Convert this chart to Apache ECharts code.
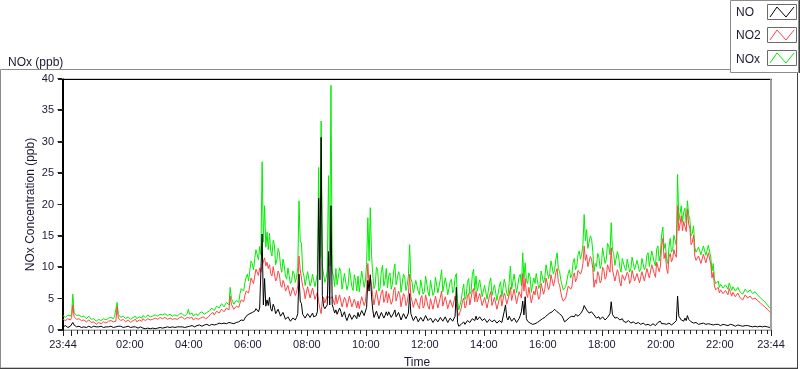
<!DOCTYPE html>
<html>
<head>
<meta charset="utf-8">
<script src="https://cdn.jsdelivr.net/npm/echarts@6/dist/echarts.min.js"></script>
<style>
html,body{margin:0;padding:0;background:#fff;}
#chart{width:800px;height:369px;}
</style>
</head>
<body>
<div id="chart"></div>
<script>
// Samples every 2.5 minutes starting at 23:44 (minute 0) through 23:44 next day (minute 1440)
const sampleStepMinutes = 2.5;

const NOx = [
  2.3,2.5, 2.0,2.2, 2.4,2.1, 2.2,2.6, 5.7,2.8, 2.6,2.3, 2.2,2.4, 2.5,2.1, 2.0,2.2, 2.3,1.8, 1.9,2.2, 2.1,1.7,
  1.5,1.8, 1.7,1.4, 1.4,1.7, 1.8,1.5, 1.5,1.8, 1.9,1.6, 1.6,1.9, 1.8,2.0, 2.0,1.8, 2.2,2.0, 4.4,2.5, 2.3,2.0,
  1.9,2.2, 2.1,1.8, 1.8,2.1, 2.0,1.7, 1.7,2.0, 2.0,2.2, 1.8,2.0, 2.1,1.8, 1.9,2.3, 2.2,2.0, 2.0,2.4, 2.3,2.1,
  2.4,2.2, 2.1,2.4, 2.5,2.2, 2.2,2.5, 2.6,2.4, 2.3,2.6, 2.5,2.3, 2.2,2.5, 2.4,2.2, 2.1,2.4, 2.5,2.2, 2.3,2.6,
  2.3,2.6, 2.5,2.2, 2.2,2.6, 3.3,2.5, 2.4,2.7, 2.2,2.5, 2.6,2.3, 2.3,2.7, 2.5,2.9, 2.8,2.5, 2.4,2.8, 2.7,3.0,
  3.2,3.5, 3.6,3.1, 3.4,3.8, 3.9,3.5, 3.6,4.2, 4.1,3.7, 3.8,4.4, 4.3,4.0, 6.8,5.0, 4.6,4.1, 4.2,4.7, 4.9,4.4,
  5.8,6.6, 6.9,6.2, 7.6,8.4, 8.9,7.8, 9.5,11.0, 10.6,9.6, 11.4,12.8, 12.6,11.2, 13.3,12.0, 26.8,14.0, 19.8,13.2, 15.6,12.8,
  15.4,12.6, 11.8,14.3, 13.6,10.4, 11.2,13.0, 12.4,10.1, 9.2,11.3, 10.3,8.6, 8.1,9.9, 9.6,7.4, 7.8,9.4, 9.0,7.6, 8.4,10.0,
  20.6,14.2, 13.8,9.4, 8.6,7.1, 7.4,9.3, 9.1,7.0, 7.6,8.9, 8.8,6.9, 7.2,9.0, 25.9,11.5, 33.3,10.2, 8.9,7.6, 8.2,9.5,
  24.6,10.2, 39.0,9.4, 8.6,6.9, 9.8,7.2, 7.4,9.9, 9.3,6.5, 6.8,9.0, 8.7,6.4, 7.2,9.8, 9.6,6.9, 6.3,8.8, 7.9,6.2,
  8.6,6.1, 6.4,9.4, 9.2,6.8, 7.8,10.4, 17.9,11.0, 19.5,12.0, 8.9,6.6, 7.2,10.0, 9.6,6.2, 6.8,9.4, 10.3,7.0, 7.9,9.8,
  6.7,8.6, 9.1,6.5, 7.3,9.4, 10.5,7.2, 7.0,9.3, 8.8,6.0, 6.2,8.9, 8.4,6.3, 7.1,8.6, 13.6,8.2, 7.6,5.9, 5.8,7.9,
  7.8,6.2, 5.6,8.0, 8.3,5.7, 6.1,8.6, 8.9,6.0, 5.4,7.9, 7.6,5.5, 6.0,8.4, 8.7,5.9, 5.8,8.1, 9.6,6.1, 6.4,8.3,
  7.2,5.6, 5.3,7.7, 8.1,5.9, 6.4,8.4, 9.0,4.6, 3.2,4.0, 4.8,6.3, 7.3,4.9, 5.4,7.6, 8.2,5.7, 6.1,8.8, 9.7,6.3,
  8.6,6.2, 5.9,8.0, 7.8,5.3, 5.1,7.1, 7.4,4.9, 4.6,7.6, 8.3,5.5, 5.2,7.2, 6.9,4.7, 4.4,7.0, 7.7,5.3, 5.6,8.1,
  7.2,5.8, 5.4,7.6, 10.2,6.5, 6.3,8.9, 8.6,5.9, 5.7,8.4, 8.9,7.0, 12.3,8.2, 10.7,7.9, 7.4,9.1, 8.5,6.0, 6.2,8.3,
  7.4,9.0, 8.8,6.6, 7.1,9.4, 9.2,7.5, 8.4,10.4, 10.1,8.2, 9.0,11.0, 10.7,8.9, 9.6,11.3, 12.3,9.8, 9.3,8.0, 7.1,6.4,
  6.3,6.9, 7.2,9.0, 9.6,8.3, 8.8,10.8, 11.4,9.6, 10.2,12.0, 12.6,11.3, 12.1,13.6, 18.4,14.2, 16.0,13.0, 13.2,15.0, 14.6,12.6,
  9.3,10.6, 10.1,12.2, 11.6,9.8, 10.4,13.1, 12.8,10.6, 11.2,13.8, 13.4,12.0, 17.1,12.7, 12.2,10.3, 10.4,12.5, 11.8,10.0, 9.2,11.4,
  11.4,9.9, 9.5,11.3, 11.0,9.2, 9.8,11.6, 11.5,9.6, 9.4,11.1, 10.9,9.3, 9.7,11.4, 11.2,9.6, 10.0,11.9, 12.3,10.1, 10.4,12.6,
  12.6,10.8, 10.2,12.9, 13.4,11.0, 12.0,15.1, 16.4,13.0, 13.8,11.4, 10.6,13.2, 14.6,12.4, 12.8,15.1, 14.9,13.5, 24.8,17.4, 18.6,19.8,
  17.2,18.8, 19.4,17.0, 20.6,18.4, 17.6,15.0, 15.4,16.6, 13.2,12.4, 12.6,13.2, 13.4,12.0, 11.8,13.4, 13.6,11.9, 12.2,13.5, 13.3,11.6,
  9.4,10.6, 8.1,7.4, 7.2,7.8, 6.8,7.3, 7.4,6.7, 6.6,7.2, 7.0,6.5, 7.5,6.9, 6.3,6.9, 6.7,6.2, 6.1,6.8, 6.5,6.0,
  6.2,5.7, 5.9,6.5, 6.4,6.0, 5.8,6.4, 6.3,5.8, 5.7,6.1, 6.0,5.6, 5.4,5.2, 5.1,4.8, 4.6,4.5, 4.2,4.0, 3.8,3.5,
  3.3
];

const NO2 = [
  1.7,1.9, 1.5,1.6, 1.8,1.5, 1.6,2.0, 4.0,2.1, 1.9,1.7, 1.6,1.8, 1.8,1.5, 1.4,1.6, 1.7,1.3, 1.3,1.6, 1.5,1.2,
  1.0,1.3, 1.2,0.9, 0.9,1.2, 1.3,1.0, 1.0,1.3, 1.3,1.1, 1.1,1.4, 1.2,1.5, 1.4,1.3, 1.6,1.4, 3.7,1.9, 1.7,1.5,
  1.4,1.7, 1.6,1.3, 1.3,1.6, 1.5,1.2, 1.2,1.5, 1.5,1.7, 1.3,1.5, 1.6,1.3, 1.4,1.8, 1.7,1.5, 1.5,1.8, 1.7,1.6,
  1.8,1.7, 1.6,1.9, 1.9,1.7, 1.7,2.0, 2.0,1.8, 1.7,2.0, 1.9,1.7, 1.6,1.9, 1.9,1.7, 1.6,1.8, 1.9,1.7, 1.7,2.0,
  1.8,2.1, 2.0,1.7, 1.7,2.0, 2.2,1.9, 1.8,2.0, 1.6,1.9, 1.9,1.7, 1.7,2.0, 1.9,2.2, 2.1,1.9, 1.8,2.1, 2.0,2.3,
  2.5,2.8, 2.8,2.4, 2.6,3.0, 3.0,2.7, 2.8,3.3, 3.2,2.9, 3.0,3.5, 3.4,3.2, 5.4,4.1, 3.8,3.3, 3.4,3.8, 4.0,3.6,
  4.3,4.8, 4.9,4.5, 5.5,6.2, 6.5,5.9, 7.1,8.3, 8.0,7.4, 8.6,9.7, 9.4,8.7, 9.9,9.2, 10.3,10.0, 11.5,10.2, 10.8,9.8,
  10.4,9.0, 8.6,10.1, 9.8,7.8, 8.3,9.4, 8.9,7.2, 6.8,7.9, 7.4,6.2, 5.9,7.1, 6.9,5.4, 5.6,6.8, 6.5,5.5, 6.0,7.0,
  11.8,9.6, 9.8,6.9, 6.4,5.0, 5.2,6.9, 6.8,5.1, 5.4,6.7, 6.6,4.9, 5.0,6.0, 4.5,3.4, 2.6,4.8, 5.2,4.3, 4.6,5.5,
  5.2,5.0, 4.8,5.3, 5.0,4.0, 5.6,4.2, 4.2,5.6, 5.4,3.7, 3.9,5.2, 4.8,3.6, 3.8,5.4, 5.1,3.7, 3.4,4.9, 4.3,3.5,
  4.6,3.4, 3.6,5.3, 5.1,3.9, 4.5,6.5, 10.6,7.0, 8.4,7.2, 5.4,4.0, 4.3,6.3, 6.2,3.9, 4.1,6.0, 6.4,4.4, 5.0,6.2,
  4.3,5.8, 6.1,4.1, 4.6,6.3, 6.8,4.6, 4.5,6.2, 5.6,3.7, 3.8,5.8, 5.4,3.9, 4.4,5.7, 8.9,5.3, 4.6,3.6, 3.5,5.0,
  4.8,3.8, 3.4,5.1, 5.5,3.5, 3.9,5.6, 5.8,3.7, 3.3,5.0, 4.9,3.3, 3.6,5.4, 5.6,3.5, 3.4,5.2, 6.2,3.8, 4.0,5.3,
  4.4,3.4, 3.2,4.8, 5.0,3.6, 3.9,5.4, 5.2,2.8, 2.3,2.9, 3.5,4.6, 5.1,3.5, 3.9,5.4, 5.8,4.0, 4.3,6.2, 6.6,4.5,
  6.2,4.5, 4.3,5.8, 5.9,3.9, 3.8,5.2, 5.3,3.5, 3.3,5.5, 6.1,3.9, 3.7,5.2, 5.0,3.3, 3.1,5.0, 5.6,3.8, 4.0,5.9,
  5.3,4.1, 3.9,5.6, 6.8,4.7, 4.5,6.5, 6.2,4.2, 4.0,6.1, 6.4,5.1, 9.0,6.2, 8.2,5.8, 5.2,6.8, 6.5,4.3, 4.4,6.2,
  5.6,7.0, 6.9,4.9, 5.3,7.4, 7.2,5.7, 6.5,8.3, 8.1,6.4, 7.0,8.8, 8.6,7.0, 7.8,9.2, 9.8,7.6, 7.2,6.0, 5.1,4.6,
  4.4,5.1, 5.4,7.0, 7.3,6.5, 6.9,8.6, 9.1,7.7, 8.2,9.5, 9.8,8.9, 9.4,10.6, 13.4,11.1, 12.0,10.1, 10.2,11.7, 11.3,9.8,
  6.8,8.0, 7.4,9.3, 8.7,7.5, 7.9,10.0, 9.6,8.1, 8.5,10.4, 10.1,9.2, 13.1,9.6, 9.3,7.8, 7.9,9.6, 9.0,7.6, 7.0,8.8,
  9.0,7.9, 7.6,9.2, 8.8,7.4, 7.9,9.5, 9.3,7.8, 7.5,9.0, 8.9,7.5, 7.8,9.3, 9.2,7.8, 8.1,9.8, 10.1,8.3, 8.6,10.4,
  10.3,9.0, 8.4,10.8, 11.0,9.3, 10.1,13.4, 14.6,11.4, 12.3,9.9, 9.0,11.6, 12.2,10.9, 11.3,12.8, 12.0,11.6, 19.8,15.8, 16.9,18.2,
  15.8,17.3, 17.1,15.7, 19.3,16.9, 16.2,13.6, 14.0,15.1, 11.8,11.1, 11.0,11.8, 11.9,10.6, 10.4,12.1, 12.4,10.7, 10.9,12.3, 12.2,10.5,
  8.3,9.2, 7.0,6.4, 6.4,6.8, 5.9,6.4, 6.5,5.8, 5.7,6.3, 6.1,5.6, 6.6,6.0, 5.4,6.0, 5.8,5.3, 5.2,5.9, 5.6,5.1,
  5.3,4.8, 5.0,5.6, 5.5,5.1, 4.9,5.4, 5.3,4.9, 4.8,5.1, 5.0,4.7, 4.5,4.4, 4.3,4.0, 3.8,3.7, 3.5,3.3, 3.1,2.9,
  2.6
];

const NO = [
  0.5,0.6, 0.7,0.5, 0.4,0.6, 0.6,0.8, 1.2,0.8, 0.7,0.5, 0.5,0.6, 0.6,0.4, 0.4,0.5, 0.6,0.4, 0.5,0.6, 0.5,0.4,
  0.5,0.6, 0.4,0.5, 0.6,0.5, 0.4,0.6, 0.5,0.4, 0.6,0.5, 0.4,0.5, 0.5,0.6, 0.5,0.4, 0.6,0.5, 0.7,0.6, 0.5,0.6,
  0.5,0.4, 0.6,0.5, 0.4,0.6, 0.5,0.4, 0.6,0.5, 0.4,0.5, 0.5,0.3, 0.4,0.5, 0.5,0.3, 0.3,0.2, 0.4,0.3, 0.3,0.2,
  0.2,0.3, 0.3,0.2, 0.2,0.3, 0.3,0.4, 0.4,0.3, 0.3,0.4, 0.4,0.5, 0.5,0.4, 0.4,0.5, 0.5,0.4, 0.4,0.5, 0.4,0.5,
  0.4,0.5, 0.5,0.4, 0.6,0.5, 0.7,0.6, 0.5,0.7, 0.6,0.5, 0.8,0.7, 0.6,0.8, 0.7,0.6, 0.9,0.8, 0.7,0.9, 0.8,0.7,
  0.8,0.9, 0.9,0.8, 1.0,0.9, 0.9,1.1, 1.1,1.0, 1.0,1.1, 1.2,1.0, 1.0,1.2, 1.3,1.1, 1.1,1.0, 1.0,1.2, 1.2,1.3,
  1.4,1.6, 1.7,1.5, 1.9,2.2, 2.4,2.1, 2.6,2.9, 2.8,2.5, 3.0,3.4, 3.3,2.9, 3.5,3.2, 15.3,4.0, 8.2,3.8, 4.8,3.9,
  5.2,3.4, 3.0,4.1, 3.6,2.6, 2.7,3.3, 3.2,2.2, 2.0,2.8, 2.6,1.7, 1.5,2.1, 2.4,1.4, 1.3,1.9, 2.2,1.6, 2.0,2.6,
  8.9,4.6, 4.2,2.5, 2.2,1.9, 2.1,2.6, 2.4,2.0, 2.2,2.7, 2.1,1.9, 2.3,3.0, 21.0,8.0, 30.7,5.5, 3.8,3.4, 3.6,4.0,
  12.5,4.0, 19.8,4.1, 3.4,2.7, 3.2,2.5, 2.8,3.5, 3.0,2.1, 2.3,2.9, 2.0,1.5, 1.6,2.6, 2.5,1.7, 1.4,2.4, 2.2,1.8,
  2.8,2.1, 2.2,3.1, 3.0,2.3, 2.6,3.6, 7.9,6.2, 8.8,5.4, 3.2,2.0, 2.2,3.0, 2.9,1.8, 1.9,2.8, 2.7,1.9, 2.3,2.9,
  2.3,2.9, 2.8,2.0, 2.1,2.7, 3.2,2.1, 2.0,2.8, 2.6,1.6, 1.7,2.6, 2.5,1.8, 2.2,2.7, 5.8,2.6, 2.4,1.5, 1.6,2.2,
  1.8,1.3, 1.4,2.0, 2.2,1.4, 1.6,2.3, 2.4,1.5, 1.3,1.9, 1.9,1.2, 1.2,1.8, 2.1,1.3, 1.4,2.0, 2.3,1.4, 1.5,2.1,
  1.6,1.2, 1.3,1.9, 2.0,1.4, 1.7,2.2, 6.8,1.2, 0.6,0.8, 0.9,1.2, 1.3,0.9, 1.1,1.5, 1.6,1.2, 1.4,1.8, 1.9,1.5,
  2.2,1.6, 1.8,2.1, 2.0,1.5, 1.4,1.8, 1.6,1.2, 1.1,1.7, 1.9,1.3, 1.2,1.6, 1.5,1.1, 1.0,1.5, 1.8,1.2, 1.4,3.0,
  4.0,2.0, 1.6,2.2, 2.1,1.4, 1.3,1.9, 1.9,1.2, 1.2,1.8, 2.3,3.0, 4.6,2.4, 5.3,1.8, 1.4,1.2, 1.1,0.8, 0.9,1.2,
  1.0,1.3, 1.2,1.0, 1.5,1.7, 1.8,1.6, 2.0,2.3, 2.4,2.2, 2.7,3.0, 2.9,2.6, 3.3,3.1, 2.9,3.2, 2.6,2.3, 2.2,1.8,
  1.3,1.5, 1.6,1.9, 2.0,2.3, 2.2,1.9, 2.1,2.5, 2.4,2.2, 2.3,2.6, 2.7,3.2, 3.9,3.6, 3.2,2.9, 2.7,3.0, 2.9,2.6,
  2.4,2.1, 1.9,2.2, 2.1,1.7, 1.8,2.1, 2.0,1.6, 1.7,2.0, 2.3,2.6, 4.5,2.5, 2.2,1.9, 1.8,2.0, 1.9,1.6, 1.5,1.8,
  1.4,1.1, 1.2,1.4, 1.5,1.2, 1.1,1.3, 1.3,1.0, 1.0,1.2, 1.2,0.9, 0.9,1.1, 1.1,0.8, 0.8,1.0, 0.9,0.7, 0.7,0.9,
  1.0,0.8, 0.7,0.9, 1.2,1.4, 1.4,1.0, 0.8,1.0, 1.1,0.9, 0.9,1.1, 1.0,0.8, 0.8,1.1, 1.2,1.5, 5.4,2.2, 1.9,1.6,
  1.6,1.4, 1.9,1.5, 2.3,1.7, 1.6,1.3, 1.3,1.1, 1.1,1.2, 1.0,0.9, 1.2,1.0, 0.9,1.1, 1.1,0.9, 0.8,1.0, 1.0,0.9,
  0.9,0.8, 1.0,0.9, 0.8,0.9, 0.9,0.7, 0.8,0.9, 1.0,0.8, 0.9,0.7, 0.8,0.9, 0.7,0.8, 0.8,0.6, 0.7,0.8, 0.8,0.7,
  0.7,0.6, 0.8,0.7, 0.6,0.7, 0.7,0.6, 0.6,0.5, 0.7,0.6, 0.6,0.5, 0.5,0.6, 0.6,0.5, 0.5,0.6, 0.6,0.5, 0.5,0.4,
  0.5
];

// Labelled x ticks (minutes after 23:44) and their texts
const xLabelMinutes = [0, 136, 256, 376, 496, 616, 736, 856, 976, 1096, 1216, 1336, 1440];
const xLabelTexts = ['23:44', '02:00', '04:00', '06:00', '08:00', '10:00', '12:00', '14:00', '16:00', '18:00', '20:00', '22:00', '23:44'];
// Major ticks include the unlabelled midnight tick
const xMajorTickMinutes = [0, 16, 136, 256, 376, 496, 616, 736, 856, 976, 1096, 1216, 1336, 1440];
const minorStep = 12;
const yTickValues = [0, 5, 10, 15, 20, 25, 30, 35, 40];

function toPairs(arr) {
  return arr.map((v, i) => [i * sampleStepMinutes, v]);
}
const minorTicks = [];
for (let t = 16 + minorStep; t < 1440; t += minorStep) {
  if ((t - 16) % 120 !== 0) minorTicks.push(t);
}

const txt = '#1a1a33';
const font = "'Liberation Sans', Arial, sans-serif";

const chart = echarts.init(document.getElementById('chart'), null, { renderer: 'canvas' });

function swatch(y, color) {
  return [
    { type: 'rect', shape: { x: 767.5, y: y + 0.5, width: 29, height: 15 }, style: { fill: '#fff', stroke: '#6a6a6a', lineWidth: 1 }, z: 102 },
    { type: 'polyline', shape: { points: [[770, y + 13], [777, y + 3], [786, y + 13], [794, y + 3]] }, style: { stroke: color, lineWidth: 1, fill: null }, z: 103 }
  ];
}

const decorations = [
  { type: 'rect', shape: { x: 0.5, y: 69.5, width: 797, height: 298.5 }, style: { fill: null, stroke: '#8c8c8c', lineWidth: 1 }, z: 100, silent: true },
  { type: 'line', shape: { x1: 0, y1: 368.5, x2: 798, y2: 368.5 }, style: { stroke: '#404040', lineWidth: 1 }, z: 100 },
  { type: 'line', shape: { x1: 797.5, y1: 69, x2: 797.5, y2: 369 }, style: { stroke: '#404040', lineWidth: 1 }, z: 100 },
  { type: 'rect', shape: { x: 730.5, y: 0.5, width: 68, height: 72 }, style: { fill: '#fff', stroke: '#8c8c8c', lineWidth: 1 }, z: 101 },
  { type: 'line', shape: { x1: 799.5, y1: 0, x2: 799.5, y2: 73 }, style: { stroke: '#404040', lineWidth: 1 }, z: 101 },
  { type: 'text', x: 736, y: 13, style: { text: 'NO', font: '12px ' + font, fill: txt, verticalAlign: 'middle' }, z: 102 },
  { type: 'text', x: 736, y: 36, style: { text: 'NO2', font: '12px ' + font, fill: txt, verticalAlign: 'middle' }, z: 102 },
  { type: 'text', x: 736, y: 60, style: { text: 'NOx', font: '12px ' + font, fill: txt, verticalAlign: 'middle' }, z: 102 },
  ...swatch(4, '#000000'),
  ...swatch(27, '#ff4444'),
  ...swatch(50, '#00ee00')
];

chart.setOption({
  animation: false,
  backgroundColor: '#fff',
  textStyle: { fontFamily: font },
  title: {
    text: 'NOx (ppb)', left: 3, top: 52,
    textStyle: { fontSize: 12, fontWeight: 'normal', color: txt, fontFamily: font }
  },
  grid: { left: 63, right: 29, top: 79, bottom: 39, containLabel: false, outerBoundsMode: 'none',
          show: true, borderColor: '#a0a0a0', borderWidth: 1 },
  xAxis: [
    {
      type: 'value', min: 0, max: 1440, position: 'bottom',
      name: 'Time', nameLocation: 'middle', nameGap: 27, nameMoveOverlap: false,
      nameTextStyle: { fontSize: 12, color: txt, fontFamily: font },
      axisLine: { show: true, onZero: false, lineStyle: { color: '#a0a0a0', width: 1 } },
      axisTick: { show: true, length: 6, customValues: xMajorTickMinutes, lineStyle: { color: '#222' } },
      axisLabel: {
        show: true, customValues: xLabelMinutes, margin: 9, fontSize: 11, color: txt, fontFamily: font,
        formatter: v => { const i = xLabelMinutes.indexOf(v); return i >= 0 ? xLabelTexts[i] : ''; }
      },
      splitLine: { show: false }
    },
    {
      type: 'value', min: 0, max: 1440, position: 'bottom',
      axisLine: { show: false, onZero: false },
      axisTick: { show: true, length: 4, customValues: minorTicks, lineStyle: { color: '#222' } },
      axisLabel: { show: false },
      splitLine: { show: false }
    },
    {
      type: 'value', min: 0, max: 1440, position: 'top',
      axisLine: { show: true, onZero: false, lineStyle: { color: '#000', width: 1 } },
      axisTick: { show: false }, axisLabel: { show: false }, splitLine: { show: false }
    }
  ],
  yAxis: [
    {
      type: 'value', min: 0, max: 40, interval: 5, position: 'left',
      name: 'NOx Concentration (ppb)', nameLocation: 'middle', nameGap: 26, nameMoveOverlap: false,
      nameTextStyle: { fontSize: 12, color: txt, fontFamily: font },
      axisLine: { show: true, onZero: false, lineStyle: { color: '#000', width: 1 } },
      axisTick: { show: true, length: 5, lineStyle: { color: '#222' } },
      axisLabel: { show: true, margin: 9, fontSize: 11, color: txt, fontFamily: font },
      splitLine: { show: false }
    },
    {
      type: 'value', min: 0, max: 40, interval: 5, position: 'right',
      axisLine: { show: true, onZero: false, lineStyle: { color: '#a0a0a0', width: 1 } },
      axisTick: { show: false }, axisLabel: { show: false }, splitLine: { show: false }
    }
  ],
  series: [
    { name: 'NOx', type: 'line', xAxisIndex: 0, yAxisIndex: 0, data: toPairs(NOx), showSymbol: false, symbol: 'none',
      lineStyle: { color: '#00ee00', width: 1 }, itemStyle: { color: '#00ee00' }, z: 2 },
    { name: 'NO2', type: 'line', xAxisIndex: 0, yAxisIndex: 0, data: toPairs(NO2), showSymbol: false, symbol: 'none',
      lineStyle: { color: '#ff4444', width: 1 }, itemStyle: { color: '#ff4444' }, z: 3 },
    { name: 'NO', type: 'line', xAxisIndex: 0, yAxisIndex: 0, data: toPairs(NO), showSymbol: false, symbol: 'none',
      lineStyle: { color: '#000000', width: 1 }, itemStyle: { color: '#000' }, z: 4 }
  ]
});

// Plot-frame edges and y ticks placed through the chart's own scales
const finder = { xAxisIndex: 0, yAxisIndex: 0 };
const pBL = chart.convertToPixel(finder, [0, 0]);
const pTR = chart.convertToPixel(finder, [1440, 40]);
const xl = Math.round(pBL[0]) - 0.5;
const xr = Math.round(pTR[0]) - 0.5;
const yb = Math.round(pBL[1]);
const yt = Math.round(pTR[1]);
const frameEdges = [
  { type: 'line', shape: { x1: xl, y1: yt, x2: xl, y2: yb }, style: { stroke: '#000', lineWidth: 1 }, z: 50 },
  { type: 'line', shape: { x1: xr, y1: yt, x2: xr, y2: yb }, style: { stroke: '#a0a0a0', lineWidth: 1 }, z: 50 }
];
yTickValues.forEach(v => {
  const py = Math.round(chart.convertToPixel(finder, [0, v])[1]) - 0.5;
  frameEdges.push({ type: 'line', shape: { x1: xl - 5, y1: py, x2: xl, y2: py }, style: { stroke: '#222', lineWidth: 1 }, z: 50 });
});

chart.setOption({ graphic: { elements: decorations.concat(frameEdges) } });
</script>
</body>
</html>
